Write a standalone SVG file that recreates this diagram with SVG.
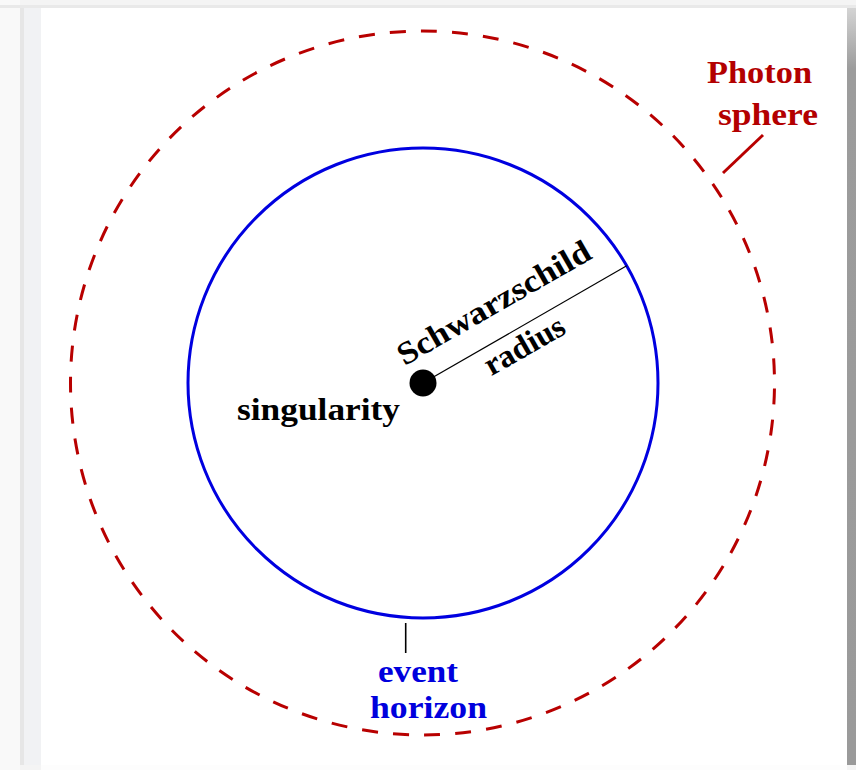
<svg xmlns="http://www.w3.org/2000/svg" width="856" height="770" viewBox="0 0 856 770">
  <defs>
    <linearGradient id="rightEdge" x1="0" y1="0" x2="0" y2="1" gradientUnits="objectBoundingBox">
      <stop offset="0" stop-color="#d4d4d4"/>
      <stop offset="0.08" stop-color="#9c9c9c"/>
      <stop offset="1" stop-color="#9a9a9a"/>
    </linearGradient>
    <style>
      .lbl { font-family: "Liberation Serif", "Times New Roman", serif; font-weight: bold; font-size: 32px; }
      .black { fill: #000000; }
      .red { fill: #b30000; }
      .blue { fill: #0000dd; }
      .horizon { fill: none; stroke: #0000e0; stroke-width: 3; }
      .photon { fill: none; stroke: #b80000; stroke-width: 3; stroke-dasharray: 16 15.15; stroke-dashoffset: 25.6; }
    </style>
  </defs>

  <!-- background frame -->
  <rect x="0" y="0" width="856" height="770" fill="#f4f4f4"/>
  <rect x="0" y="0" width="20" height="770" fill="#f9f9f9"/>
  <rect x="20" y="8" width="4" height="757" fill="#e6e6e6"/>
  <rect x="24" y="8" width="17" height="757" fill="#f1f2f4"/>
  <rect x="0" y="5" width="856" height="3" fill="#e9e9e9"/>
  <rect x="41" y="765" width="806" height="5" fill="#fdfdfd"/>
  <rect x="41" y="8" width="806" height="757" fill="#ffffff"/>
  <rect x="847" y="8" width="9" height="757" fill="url(#rightEdge)"/>

  <g id="photon-sphere">
    <circle class="photon" cx="422.5" cy="383" r="352"/>
    <text class="lbl red" x="707" y="83" textLength="105" lengthAdjust="spacingAndGlyphs">Photon</text>
    <text class="lbl red" x="718" y="125" textLength="100" lengthAdjust="spacingAndGlyphs">sphere</text>
  </g>

  <g id="event-horizon">
    <circle class="horizon" cx="423" cy="383" r="235"/>
    <text class="lbl blue" x="378" y="682" textLength="80" lengthAdjust="spacingAndGlyphs">event</text>
    <text class="lbl blue" x="370" y="718" textLength="117" lengthAdjust="spacingAndGlyphs">horizon</text>
  </g>

  <g id="connectors">
    <line id="radius-line" x1="423" y1="383" x2="626.7" y2="265.8" stroke="#000000" stroke-width="1.2"/>
    <line id="photon-leader" x1="763" y1="135" x2="723" y2="173" stroke="#b80000" stroke-width="3"/>
    <line id="horizon-leader" x1="405.7" y1="623" x2="405.7" y2="653" stroke="#000000" stroke-width="1.6"/>
  </g>

  <g id="singularity">
    <circle cx="423" cy="383" r="13.5" fill="#000000"/>
    <text class="lbl black" x="237" y="420" textLength="163" lengthAdjust="spacingAndGlyphs">singularity</text>
  </g>

  <g id="schwarzschild-radius">
    <text class="lbl black" text-anchor="middle" transform="translate(499 312) rotate(-29.8)" textLength="218" lengthAdjust="spacingAndGlyphs">Schwarzschild</text>
    <text class="lbl black" text-anchor="middle" transform="translate(529.5 354.5) rotate(-29.8)" textLength="88" lengthAdjust="spacingAndGlyphs">radius</text>
  </g>
</svg>
